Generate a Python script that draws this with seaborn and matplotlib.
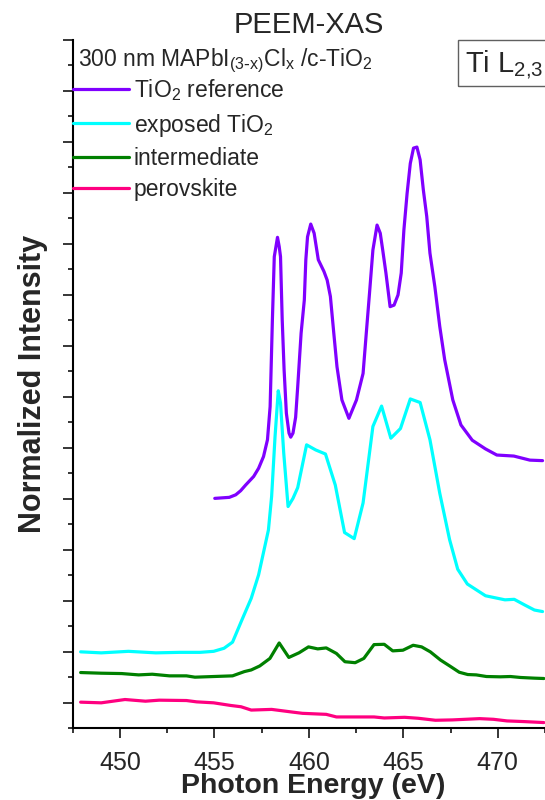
import numpy as np
import pandas as pd
import matplotlib
matplotlib.use("Agg")
import matplotlib.pyplot as plt
from matplotlib.patches import Rectangle
import seaborn as sns

# ---------------- data ----------------
ref_E = [455.02, 455.79, 456.13, 456.39, 456.65, 457.08, 457.34, 457.60, 457.81, 457.95,
         458.07, 458.17, 458.26, 458.34, 458.43, 458.50, 458.59, 458.69, 458.81, 458.95,
         459.04, 459.16, 459.30, 459.41, 459.59, 459.76, 459.84, 459.93, 460.10, 460.28,
         460.50, 460.80, 460.97, 461.14, 461.32, 461.49, 461.75, 462.12, 462.52, 462.87,
         463.04, 463.21, 463.39, 463.61, 463.78, 463.91, 464.08, 464.30, 464.51, 464.72,
         464.89, 465.03, 465.20, 465.37, 465.54, 465.72, 465.89, 466.06, 466.24, 466.41,
         466.67, 466.93, 467.19, 467.62, 468.05, 468.65, 469.35, 469.95, 470.85, 471.70,
         472.37]
ref_I = [4.01, 4.03, 4.08, 4.16, 4.27, 4.44, 4.60, 4.83, 5.16, 5.81,
         7.51, 8.75, 8.95, 9.13, 8.95, 8.75, 7.51, 6.53, 5.68, 5.29,
         5.21, 5.29, 5.60, 6.20, 7.25, 7.90, 8.69, 9.14, 9.39, 9.21,
         8.69, 8.46, 8.29, 7.97, 7.25, 6.59, 5.94, 5.58, 5.94, 6.46,
         7.25, 8.03, 8.88, 9.37, 9.21, 8.88, 8.43, 7.77, 7.80, 8.00,
         8.43, 9.27, 9.99, 10.58, 10.88, 10.90, 10.65, 10.06, 9.54, 8.82,
         8.16, 7.38, 6.73, 5.94, 5.45, 5.15, 4.98, 4.86, 4.84, 4.76,
         4.75]

exp_E = [447.92, 449.01, 450.45, 451.90, 453.16, 454.24, 454.96, 455.51, 455.96, 456.45,
         456.95, 457.34, 457.86, 458.03, 458.21, 458.38, 458.50, 458.67, 458.90, 459.16,
         459.41, 459.88, 460.36, 460.88, 461.40, 461.89, 462.40, 462.87, 463.39, 463.85,
         464.34, 464.85, 465.37, 465.89, 466.41, 466.93, 467.45, 467.88, 468.39, 469.35,
         470.38, 470.87, 471.42, 471.94, 472.37]
exp_I = [1.00, 0.98, 1.01, 0.98, 0.99, 0.99, 1.01, 1.07, 1.19, 1.62,
         2.05, 2.51, 3.39, 4.05, 5.22, 6.12, 5.88, 4.90, 3.85, 4.01,
         4.22, 5.06, 4.96, 4.88, 4.27, 3.34, 3.22, 3.92, 5.42, 5.82,
         5.19, 5.38, 5.96, 5.89, 5.16, 4.11, 3.20, 2.62, 2.33, 2.10,
         2.02, 2.03, 1.92, 1.82, 1.79]

int_E = [447.92, 449.01, 450.09, 450.99, 451.71, 452.62, 453.52, 453.97, 454.96, 455.96,
         456.59, 456.95, 457.40, 457.94, 458.43, 458.94, 459.48, 459.98, 460.47, 460.92,
         461.46, 461.91, 462.45, 462.91, 463.45, 463.99, 464.44, 464.98, 465.52, 465.97,
         466.43, 466.97, 467.51, 467.96, 468.41, 468.86, 469.40, 470.13, 470.67, 471.21,
         471.93, 472.44]
int_I = [0.594, 0.581, 0.574, 0.548, 0.561, 0.529, 0.529, 0.503, 0.516, 0.529,
         0.613, 0.645, 0.723, 0.871, 1.174, 0.890, 0.981, 1.097, 1.058, 1.077,
         0.968, 0.806, 0.787, 0.871, 1.142, 1.148, 1.019, 1.032, 1.129, 1.097,
         1.000, 0.839, 0.710, 0.600, 0.555, 0.548, 0.516, 0.510, 0.516, 0.497,
         0.484, 0.477]

per_E = [447.92, 449.01, 450.27, 451.35, 452.08, 453.52, 454.06, 454.96, 455.87, 456.41,
         456.95, 458.03, 459.12, 459.66, 460.92, 461.46, 462.18, 463.45, 463.99, 465.07,
         465.79, 466.70, 467.60, 469.04, 469.77, 470.49, 471.39, 472.44]
per_I = [0.013, 0.000, 0.065, 0.032, 0.052, 0.045, 0.019, 0.000, -0.052, -0.077,
         -0.142, -0.129, -0.181, -0.206, -0.226, -0.277, -0.277, -0.277, -0.297, -0.284,
         -0.303, -0.342, -0.335, -0.310, -0.323, -0.355, -0.368, -0.387]

series_names = ["TiO$_{2}$ reference", "exposed TiO$_{2}$", "intermediate", "perovskite"]
series_colors = ["#8000FF", "#00FFFF", "#008000", "#FF0080"]

x_major = [450, 455, 460, 465, 470]

# ---------------- style ----------------
sns.set_style("ticks")
plt.rcParams["font.family"] = ["Liberation Sans", "DejaVu Sans"]
plt.rcParams["mathtext.default"] = "regular"

frames = []
for name, E, I in zip(series_names, [ref_E, exp_E, int_E, per_E], [ref_I, exp_I, int_I, per_I]):
    frames.append(pd.DataFrame({"E": E, "I": I, "series": name}))
df = pd.concat(frames, ignore_index=True)

fig = plt.figure(figsize=(5.45, 8), dpi=100)
ax = fig.add_axes([0.1334, 0.0896, 0.8666, 0.8604])

sns.lineplot(data=df, x="E", y="I", hue="series", hue_order=series_names,
             palette=series_colors, linewidth=2.3, estimator=None, sort=False,
             legend=False, ax=ax)

ax.set_xlim(447.9, 472.37)
ax.set_ylim(-0.5, 13)
ax.set_xticks(x_major)
ax.set_xticks(np.arange(447.5, 473, 2.5), minor=True)
ax.set_yticks(np.arange(0, 13.5, 1))
ax.set_yticks(np.arange(-0.5, 13, 0.5), minor=True)
ax.set_yticklabels([])

for s in ["top", "right"]:
    ax.spines[s].set_visible(False)
for s in ["left", "bottom"]:
    ax.spines[s].set_linewidth(1.5)
    ax.spines[s].set_color("black")

ax.tick_params(axis="both", which="major", direction="out", length=7, width=1.1,
               color="black", labelsize=18, pad=9)
ax.tick_params(axis="both", which="minor", direction="out", length=3.5, width=1.1,
               color="black")

ax.set_xlabel("Photon Energy (eV)", fontsize=20.5, fontweight="bold")
ax.xaxis.set_label_coords(0.51, -0.0945)
ax.xaxis.label.set_va("baseline")
ax.set_ylabel("Normalized Intensity", fontsize=22, fontweight="bold")
ax.yaxis.set_label_coords(-0.052, 0.5)

ax.set_title("PEEM-XAS", fontsize=21, pad=5)

handles = ax.lines[:4]
leg = ax.legend(handles, series_names, loc="upper left", bbox_to_anchor=(-0.007, 0.996),
                frameon=False, borderaxespad=0, borderpad=0.15, fontsize=16.5,
                handlelength=2.45, handletextpad=0.2, labelspacing=0.36,
                title=r"300 nm MAPbI$_{(3\text{-}x)}$Cl$_{x}$ /c-TiO$_{2}$",
                title_fontsize=16.5, alignment="left")
leg._legend_box.sep = 2
leg.get_title().set_position((5, 0))

# Ti L2,3 box
ax.add_patch(Rectangle((0.8158, 0.933), 0.3, 0.067, transform=ax.transAxes,
                       fill=False, edgecolor="#606060", linewidth=1.0, clip_on=False))
ax.text(0.8306, 0.954, "Ti L$_{2{,}3}$", transform=ax.transAxes, fontsize=21,
        ha="left", va="baseline")

fig.savefig("out.png", dpi=100)
